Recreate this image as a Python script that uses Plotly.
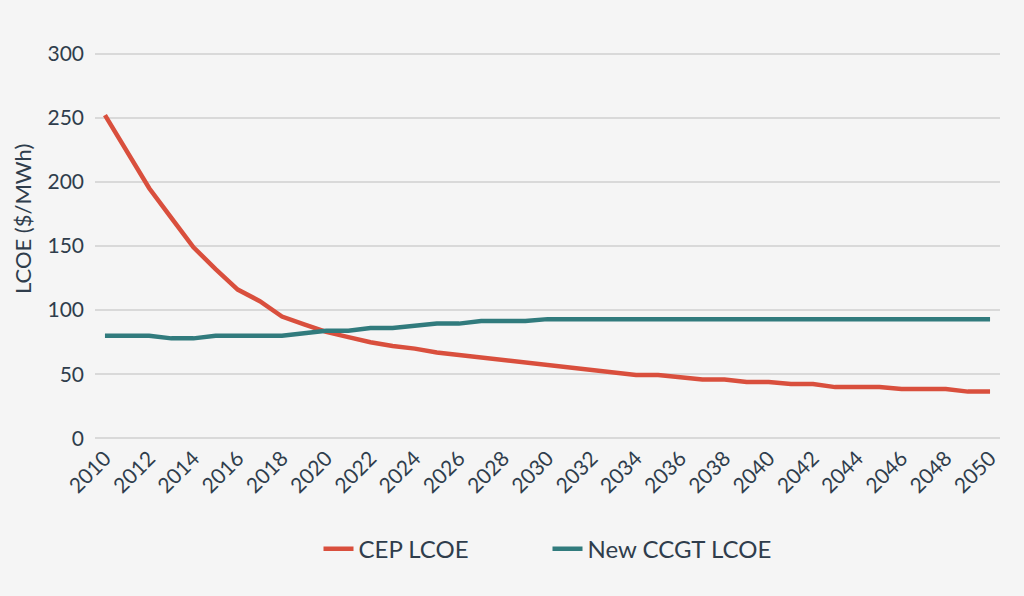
import plotly.graph_objects as go

years = list(range(2010, 2051))
cep_lcoe = [252, 224, 195, 172, 149, 132, 116, 107, 95, 89, 83, 79, 75, 72, 70, 67, 65, 63, 61, 59,
            57, 55, 53, 51, 49.5, 49.5, 47.5, 46, 46, 44, 44, 42.5, 42.5, 40, 40, 40, 38.5, 38.5, 38.5, 36.5, 36.5]
ccgt_lcoe = [80, 80, 80, 78, 78, 80, 80, 80, 80, 82, 84, 84, 86, 86, 88, 89.5, 89.5, 91.5, 91.5, 91.5,
             93, 93, 93, 93, 93, 93, 93, 93, 93, 93, 93, 93, 93, 93, 93, 93, 93, 93, 93, 93, 93]
x_ticks = list(range(2010, 2051, 2))
y_ticks = [0, 50, 100, 150, 200, 250, 300]
y_title = "LCOE ($/MWh)"

text_color = "#2f3d4c"
font_family = "Lato, 'Open Sans', sans-serif"

fig = go.Figure()
fig.add_trace(go.Scatter(x=years, y=cep_lcoe, mode="lines", name="CEP LCOE",
                         line=dict(color="#d94f3d", width=4.5)))
fig.add_trace(go.Scatter(x=years, y=ccgt_lcoe, mode="lines", name="New CCGT LCOE",
                         line=dict(color="#317b7d", width=4.5)))

fig.add_annotation(text=y_title, xref="paper", yref="paper", x=-0.0807, y=0.569,
                   xanchor="center", yanchor="middle", textangle=-90, showarrow=False,
                   font=dict(size=22, color=text_color))

fig.update_layout(
    width=1024, height=596,
    paper_bgcolor="#f5f5f5", plot_bgcolor="#f5f5f5",
    margin=dict(l=95, r=24, t=51, b=155),
    font=dict(family=font_family, size=21, color=text_color),
    showlegend=True,
    legend=dict(orientation="h", x=0.50, xanchor="center", y=-0.277, yanchor="middle",
                font=dict(size=24, color=text_color), entrywidth=184, entrywidthmode="pixels",
                bgcolor="rgba(0,0,0,0)"),
    xaxis=dict(range=[2009.55, 2050.45], tickvals=x_ticks, ticktext=[str(t) for t in x_ticks],
               tickangle=-45, showgrid=False, zeroline=False, showline=False, ticks="",
               tickfont=dict(size=21, color=text_color)),
    yaxis=dict(range=[-2, 302], tickvals=y_ticks, showgrid=True, gridcolor="#d9d9d9", gridwidth=2,
               zeroline=False, showline=False, ticks="", ticklabelstandoff=10,
               tickfont=dict(size=21, color=text_color)),
)

fig.write_html("out.html", config={"displayModeBar": False},
               post_script="document.body.style.margin='0';document.body.style.background='#f5f5f5';")
